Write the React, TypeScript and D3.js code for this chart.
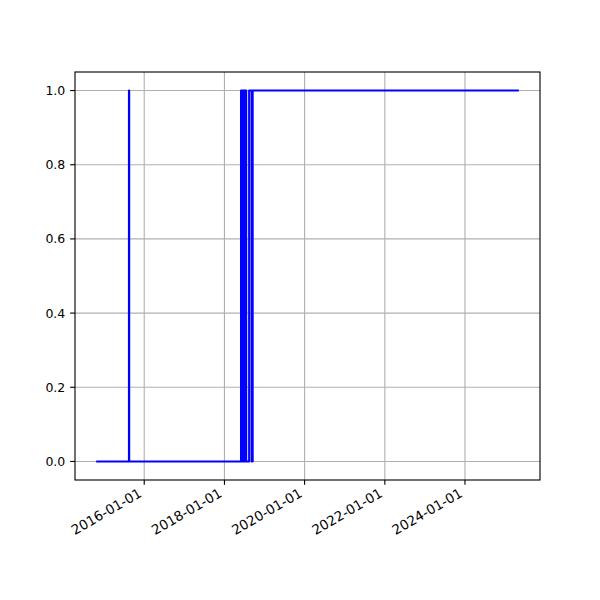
import React from "react";
import * as d3 from "d3";

const dates: string[] = [
  "2014-10-20", "2015-08-15", "2015-08-17",
  "2018-06-01", "2018-06-06", "2018-06-11", "2018-06-16", "2018-06-21", "2018-06-26", "2018-07-01", "2018-07-06", "2018-07-11", "2018-07-18",
  "2018-08-14", "2018-09-06", "2018-09-15",
  "2025-05-06",
];
const values: number[] = [
  0, 1, 0,
  1, 0, 1, 0, 1, 0, 1, 0, 1, 0,
  1, 0, 1,
  1,
];
const xTickLabels: string[] = ["2016-01-01", "2018-01-01", "2020-01-01", "2022-01-01", "2024-01-01"];
const yTicks: number[] = [0, 0.2, 0.4, 0.6, 0.8, 1.0];

export default function App() {
  const W = 600, H = 600;
  const L = 75, R = 540, T = 72, B = 480;
  const pt = 100 / 72;
  const fsX = 13.5;
  const fsY = 12.5;
  const tickLen = 3.5 * pt;
  const tickPad = 3.5 * pt;
  const parse = d3.utcParse("%Y-%m-%d");
  const data = dates.map((d, i) => ({ t: parse(d) as Date, v: values[i] }));
  const t0 = data[0].t.getTime();
  const t1 = data[data.length - 1].t.getTime();
  const pad = (t1 - t0) * 0.05;
  const x = d3.scaleUtc().domain([new Date(t0 - pad), new Date(t1 + pad)]).range([L, R]);
  const y = d3.scaleLinear().domain([-0.05, 1.05]).range([B, T]);
  const line = d3
    .line<{ t: Date; v: number }>()
    .x((d) => x(d.t))
    .y((d) => y(d.v))
    .curve(d3.curveStepAfter);
  const xt = xTickLabels.map((s) => ({ s, d: parse(s) as Date }));
  const font = "DejaVu Sans, sans-serif";
  return (
    <div style={{ position: "absolute", left: 0, top: 0 }}>
      <svg width={W} height={H} style={{ display: "block", background: "#fff" }}>
        <rect x={0} y={0} width={W} height={H} fill="#fff" />
        {xt.map((t) => (
          <line key={"gx" + t.s} x1={x(t.d)} x2={x(t.d)} y1={T} y2={B} stroke="#b0b0b0" strokeWidth={0.8 * pt} />
        ))}
        {yTicks.map((v) => (
          <line key={"gy" + v} x1={L} x2={R} y1={y(v)} y2={y(v)} stroke="#b0b0b0" strokeWidth={0.8 * pt} />
        ))}
        <path d={line(data) || ""} fill="none" stroke="blue" strokeWidth={1.5 * pt} strokeLinejoin="round" />
        <rect x={L} y={T} width={R - L} height={B - T} fill="none" stroke="#000" strokeWidth={0.8 * pt} />
        {xt.map((t) => (
          <g key={"tx" + t.s}>
            <line x1={x(t.d)} x2={x(t.d)} y1={B} y2={B + tickLen} stroke="#000" strokeWidth={0.8 * pt} />
            <text
              transform={`translate(${x(t.d) - 1.5},${B + 16}) rotate(-30)`}
              textAnchor="end"
              fontFamily={font}
              fontSize={fsX}
              fill="#000"
            >
              {t.s}
            </text>
          </g>
        ))}
        {yTicks.map((v) => (
          <g key={"ty" + v}>
            <line x1={L - tickLen} x2={L} y1={y(v)} y2={y(v)} stroke="#000" strokeWidth={0.8 * pt} />
            <text x={L - tickLen - tickPad} y={y(v)} textAnchor="end" dominantBaseline="central" fontFamily={font} fontSize={fsY} fill="#000">
              {v.toFixed(1)}
            </text>
          </g>
        ))}
      </svg>
    </div>
  );
}
